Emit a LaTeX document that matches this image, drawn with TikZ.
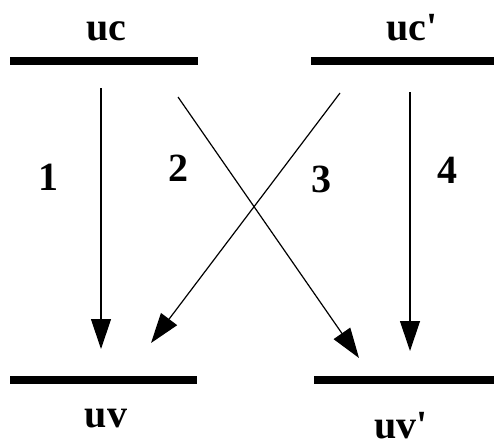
\documentclass[tikz,border=0pt]{standalone}
\usepackage{fontspec}
\setmainfont{Liberation Serif}
\usetikzlibrary{arrows.meta}
\begin{document}
\begin{tikzpicture}[x=1pt,y=-1pt,
  bar/.style={fill=black,draw=none,inner sep=0pt,minimum height=8pt,rectangle},
  lbl/.style={font=\fontsize{40}{42}\selectfont\bfseries,inner sep=0pt,anchor=base},
  num/.style={font=\fontsize{40}{42}\selectfont\bfseries,inner sep=0pt,anchor=base},
  trans/.style={line width=1.2pt,-{Triangle[length=30pt,width=20pt]}}]
\useasboundingbox (0,0) rectangle (494,447);
\node[bar,minimum width=188pt] (ucbar) at (104,61) {};
\node[bar,minimum width=183pt] (ucpbar) at (402.5,61) {};
\node[bar,minimum width=187pt] (uvbar) at (103.5,380) {};
\node[bar,minimum width=180pt] (uvpbar) at (404,380) {};
\node[lbl] (uc) at (106,40) {uc};
\node[lbl] (ucp) at (412,40) {uc\textquotesingle};
\node[lbl] (uv) at (106,427) {uv};
\node[lbl] (uvp) at (401,438) {uv\textquotesingle};
\coordinate (s1) at (101,88);
\coordinate (t1) at (101,349);
\coordinate (s2) at (178,97);
\coordinate (t2) at (359,358);
\coordinate (s3) at (340,93);
\coordinate (t3) at (151,343);
\coordinate (s4) at (410,92);
\coordinate (t4) at (410,351);
\draw[trans] (s1) -- (t1);
\draw[trans] (s2) -- (t2);
\draw[trans] (s3) -- (t3);
\draw[trans] (s4) -- (t4);
\node[num] (n1) at (48,190) {1};
\node[num] (n2) at (178,181) {2};
\node[num] (n3) at (321,192) {3};
\node[num] (n4) at (447,183) {4};
\end{tikzpicture}
\end{document}
